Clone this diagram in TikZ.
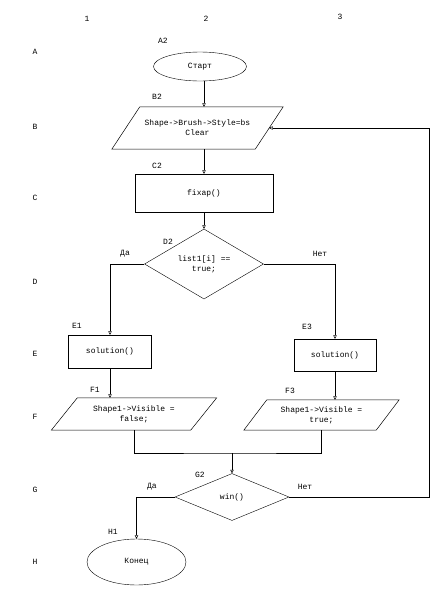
\documentclass[tikz,border=0pt]{standalone}
\usepackage{fontspec}
\setmonofont{Liberation Mono}
\usetikzlibrary{arrows.meta,shapes.geometric}

\begin{document}
\begin{tikzpicture}[x=1pt,y=-1pt,
  every node/.style={font=\ttfamily\fontsize{8}{10}\selectfont},
  term/.style={draw, ellipse, inner sep=0pt},
  proc/.style={draw, rectangle, inner sep=0pt},
  io/.style={rectangle, inner sep=1pt, align=center},
  cond/.style={draw, diamond, inner sep=0pt, align=center},
  tag/.style={inner sep=0pt},
  arr/.style={-{Triangle[open,length=3.5pt,width=3.5pt]}, line width=0.5pt},
  line/.style={line width=0.5pt}
]
\useasboundingbox (0,0) rectangle (433,590);

% grid labels
\foreach \col/\x/\y in {1/87/19, 2/206/19, 3/340/17}
  \node[tag] (col\col) at (\x,\y) {\col};
\foreach \row/\y in {A/52, B/127, C/198, D/282, E/354, F/417, G/490, H/562}
  \node[tag] (row\row) at (35,\y) {\row};

% blocks
\node[term, minimum width=93pt, minimum height=29pt] (start) at (200,66.5) {Старт};
\node[io, minimum width=143pt, minimum height=42pt] (shape) at (197.5,128) {Shape->Brush->Style=bs\\Clear};
\node[proc, minimum width=138pt, minimum height=38pt] (fixap) at (204,193) {fixap()};
\node[cond, minimum width=119pt, minimum height=62pt] (cond1) at (204,264) {list1[i] ==\\true;};
\node[proc, minimum width=83pt, minimum height=33pt] (sol1) at (110,351.5) {solution()};
\node[proc, minimum width=82pt, minimum height=32pt] (sol3) at (335,355) {solution()};
\node[io, minimum width=139pt, minimum height=32pt] (vis1) at (134,414) {Shape1->Visible =\\false;};
\node[io, minimum width=132pt, minimum height=30pt] (vis3) at (321.5,415) {Shape1->Visible =\\true;};
\node[cond, minimum width=114pt, minimum height=47pt] (cond2) at (232,497) {win()};
\node[term, minimum width=99pt, minimum height=46pt] (stop) at (136.5,562) {Конец};

% slanted data blocks
\foreach \n/\s in {shape/14, vis1/13, vis3/11.5}
  \draw[line] ([xshift=\s pt]\n.north west) -- ([xshift=\s pt]\n.north east)
    -- ([xshift=-\s pt]\n.south east) -- ([xshift=-\s pt]\n.south west) -- cycle;

% block tags
\foreach \t/\x/\y in {A2/163/41, B2/157/97, C2/157/166, D2/168/242, E1/77/326,
                      E3/307/327, F1/95/390, F3/290/391, G2/200/475, H1/113/532}
  \node[tag] (tag\t) at (\x,\y) {\t};

% branch labels
\node[tag] (yes1) at (125,254) {Да};
\node[tag] (no1)  at (320,254) {Нет};
\node[tag] (yes2) at (152,487) {Да};
\node[tag] (no2)  at (305,487) {Нет};

\coordinate (merge) at (232,453);
\coordinate (back) at (429,128);

% connectors
\draw[arr] (start.south -| fixap.north) -- (shape.north -| fixap.north);
\draw[arr] (shape.south -| fixap.north) -- (fixap.north);
\draw[arr] (fixap.south) -- (cond1.north);
\draw[arr] (cond1.west) -| (sol1.north);
\draw[arr] (cond1.east) -| (sol3.north);
\draw[arr] (sol1.south) -- (sol1.south |- vis1.north);
\draw[arr] (sol3.south) -- (sol3.south |- vis3.north);
\draw[line] (vis1.south) |- (merge) -| (vis3.south);
\draw[arr] (merge) -- (cond2.north);
\draw[arr] (cond2.west) -| (stop.north);
\draw[arr] (cond2.east) -| (back) -- (shape.east);
\end{tikzpicture}
\end{document}
